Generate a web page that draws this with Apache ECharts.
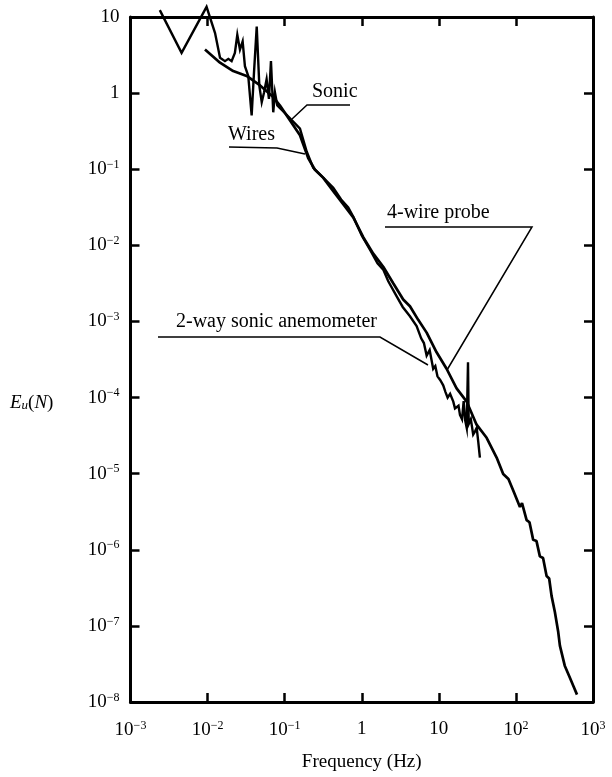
<!DOCTYPE html>
<html>
<head>
<meta charset="utf-8">
<script src="https://cdn.jsdelivr.net/npm/echarts@6/dist/echarts.min.js"></script>
<style>
  html, body { margin: 0; padding: 0; background: #fff; }
  #chart { width: 612px; height: 777px; }
</style>
</head>
<body>
<div id="chart"></div>
<script>
// Decade exponents used for tick labels
const xExponents = [-3, -2, -1, 0, 1, 2, 3];
const yExponents = [-8, -7, -6, -5, -4, -3, -2, -1, 0, 1];

// 2-way sonic anemometer spectrum (frequency in Hz, spectral energy)
const sonicFreq = [
  0.0024, 0.0046, 0.0097, 0.0125, 0.0145, 0.0168, 0.0186, 0.0205, 0.0226, 0.0243,
  0.0263, 0.0285, 0.0305, 0.0337, 0.0373, 0.0400, 0.0434, 0.0469, 0.0504, 0.0540,
  0.0583, 0.0625, 0.0664, 0.0711, 0.0748, 0.0802, 0.110, 0.158, 0.193, 0.235,
  0.300, 0.427, 0.540, 0.668, 0.780, 1.00, 1.30, 1.60, 1.90, 2.20,
  2.84, 3.40, 4.22, 5.15, 5.90, 6.40, 6.95, 7.60, 8.45, 9.00,
  9.60, 10.4, 11.4, 12.2, 13.0, 14.0, 15.4, 16.2, 17.0, 18.0,
  18.8, 20.0, 21.0, 22.0, 23.0, 23.9, 24.4, 26.0, 27.9, 29.5,
  31.0, 32.5, 34.1
];
const sonicEnergy = [
  12.3, 3.38, 13.6, 6.15, 2.91, 2.63, 2.82, 2.63, 3.38, 5.85,
  3.73, 4.79, 2.26, 1.68, 0.51, 1.86, 7.48, 1.25, 0.76, 1.02,
  1.52, 0.84, 2.63, 0.56, 1.02, 0.69, 0.50, 0.342, 0.171, 0.104,
  0.082, 0.057, 0.040, 0.0314, 0.0235, 0.0135, 0.0085, 0.0058, 0.0048, 0.0034,
  0.00213, 0.00155, 0.00117, 0.00087, 0.00060, 0.00052, 0.000356, 0.00042, 0.000239, 0.00026,
  0.00019, 0.00017, 0.000145, 0.000118, 0.000100, 0.000112, 0.0000883, 0.000072, 0.000068, 0.000078,
  0.0000593, 0.000052, 0.000090, 0.000050, 0.000040, 0.000291, 0.000045, 0.000052, 0.0000327, 0.000036,
  0.000040, 0.000026, 0.0000163
];

// 4-wire probe spectrum (frequency in Hz, spectral energy)
const wiresFreq = [
  0.00925, 0.0145, 0.0215, 0.0321, 0.048, 0.071, 0.0869, 0.158, 0.202, 0.247,
  0.317, 0.427, 0.575, 0.776, 1.045, 1.41, 1.90, 2.56, 3.45, 4.22,
  5.40, 6.95, 9.35, 12.6, 17.0, 23.0, 30.9, 41.7, 56.2, 68.4,
  80.0, 92.3, 112.7, 120.0, 137.7, 150.0, 167.5, 185.0, 204.6, 225.0,
  250, 270, 290, 320.6, 354, 372, 430, 500, 560, 620
];
const wiresEnergy = [
  3.73, 2.51, 1.95, 1.68, 1.26, 0.89, 0.687, 0.280, 0.140, 0.0984,
  0.0769, 0.0516, 0.0347, 0.0233, 0.0128, 0.00778, 0.00524, 0.00318, 0.00194, 0.00158,
  0.00105, 0.000713, 0.000393, 0.000239, 0.000132, 0.0000883, 0.000044, 0.0000296, 0.0000163, 0.0000099,
  0.0000085, 0.0000060, 0.00000366, 0.0000041, 0.00000245, 0.0000023, 0.00000135, 0.0000013, 0.00000082, 0.00000078,
  0.000000452, 0.00000042, 0.000000248, 0.000000151, 0.000000083, 0.000000055, 0.000000030, 0.000000021, 0.000000016, 0.0000000125
];

const pair = (xs, ys) => xs.map((x, i) => [x, ys[i]]);

const SERIF = '"Liberation Serif", "Times New Roman", serif';

function powerLabel(v) {
  const e = Math.round(Math.log10(v));
  if (e === 0) return '1';
  if (e === 1) return '10';
  return '10{sup|' + (e < 0 ? '\u2212' : '') + Math.abs(e) + '}';
}

const labelRich = {
  sup: { fontSize: 12, fontFamily: SERIF, color: '#000', padding: [0, 0, 9, 0] }
};

function logAxis(extra) {
  return Object.assign({
    type: 'log',
    logBase: 10,
    interval: 1,
    axisLine: { show: true, onZero: false, lineStyle: { color: '#000', width: 3 } },
    axisTick: { show: true, inside: true, length: 9, lineStyle: { color: '#000', width: 2.5 } },
    minorTick: { show: false },
    splitLine: { show: false },
    axisLabel: { show: false }
  }, extra);
}

const tickLabel = (margin) => ({
  show: true,
  formatter: powerLabel,
  fontFamily: SERIF,
  fontSize: 19,
  color: '#000',
  margin: margin,
  rich: labelRich
});

const chart = echarts.init(document.getElementById('chart'), null, { renderer: 'canvas' });

const annotationFont = '20px ' + SERIF;
const xMin = Math.pow(10, xExponents[0]);
const xMax = Math.pow(10, xExponents[xExponents.length - 1]);
const yMin = Math.pow(10, yExponents[0]);
const yMax = Math.pow(10, yExponents[yExponents.length - 1]);

chart.setOption({
  animation: false,
  backgroundColor: '#fff',
  grid: { left: 130.5, right: 19, top: 17, bottom: 66, containLabel: false },
  xAxis: [
    logAxis({
      min: xMin, max: xMax,
      position: 'bottom',
      name: 'Frequency (Hz)',
      nameLocation: 'middle',
      nameGap: 51,
      nameTextStyle: { fontFamily: SERIF, fontSize: 19, color: '#000' },
      axisLabel: tickLabel(18)
    }),
    logAxis({ min: xMin, max: xMax, position: 'top' })
  ],
  yAxis: [
    logAxis({
      min: yMin, max: yMax,
      position: 'left',
      axisLabel: tickLabel(11)
    }),
    logAxis({ min: yMin, max: yMax, position: 'right' })
  ],
  series: [
    {
      name: '2-way sonic anemometer',
      type: 'line',
      xAxisIndex: 0,
      yAxisIndex: 0,
      data: pair(sonicFreq, sonicEnergy),
      showSymbol: false,
      symbol: 'none',
      clip: false,
      lineStyle: { color: '#000', width: 2.4, join: 'miter' },
      z: 3
    },
    {
      name: '4-wire probe',
      type: 'line',
      xAxisIndex: 0,
      yAxisIndex: 0,
      data: pair(wiresFreq, wiresEnergy),
      showSymbol: false,
      symbol: 'none',
      clip: false,
      lineStyle: { color: '#000', width: 2.7 },
      z: 3
    }
  ],
  graphic: [
    // y-axis title
    {
      type: 'text', x: 10, y: 403,
      style: {
        text: '{i|E}{s|u}{n|(}{i|N}{n|)}',
        textVerticalAlign: 'middle',
        rich: {
          i: { fontFamily: SERIF, fontStyle: 'italic', fontSize: 19, fill: '#000' },
          n: { fontFamily: SERIF, fontSize: 19, fill: '#000' },
          s: { fontFamily: SERIF, fontStyle: 'italic', fontSize: 13, fill: '#000', padding: [6, 0, 0, 0] }
        }
      }
    },
    // curve annotations
    { type: 'text', x: 312, y: 92, style: { text: 'Sonic', font: annotationFont, fill: '#000', textVerticalAlign: 'middle' } },
    { type: 'polyline', shape: { points: [[350, 105], [307, 105], [292, 119]] }, style: { stroke: '#000', lineWidth: 1.5, fill: null } },
    { type: 'text', x: 228, y: 135, style: { text: 'Wires', font: annotationFont, fill: '#000', textVerticalAlign: 'middle' } },
    { type: 'polyline', shape: { points: [[229, 147], [277, 148], [305, 154]] }, style: { stroke: '#000', lineWidth: 1.5, fill: null } },
    { type: 'text', x: 387, y: 213, style: { text: '4-wire probe', font: annotationFont, fill: '#000', textVerticalAlign: 'middle' } },
    { type: 'polyline', shape: { points: [[385, 227], [532, 227], [447, 370]] }, style: { stroke: '#000', lineWidth: 1.5, fill: null } },
    { type: 'text', x: 377, y: 322, style: { text: '2-way sonic anemometer', font: annotationFont, fill: '#000', textAlign: 'right', textVerticalAlign: 'middle' } },
    { type: 'polyline', shape: { points: [[158, 337], [380, 337], [428, 365]] }, style: { stroke: '#000', lineWidth: 1.5, fill: null } }
  ]
});
</script>
</body>
</html>
